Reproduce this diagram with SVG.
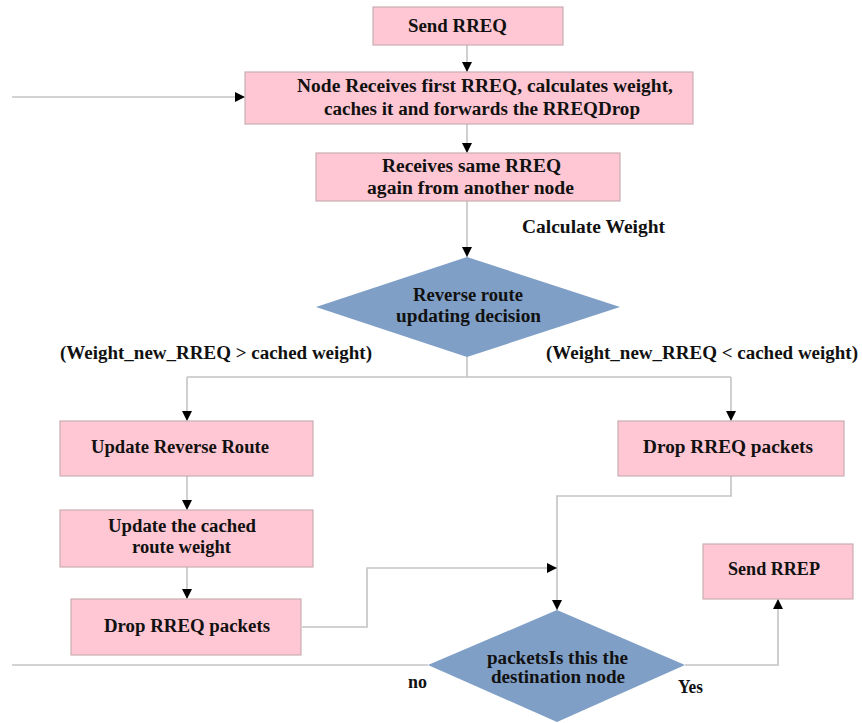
<svg xmlns="http://www.w3.org/2000/svg" width="862" height="723" viewBox="0 0 862 723">
<style>
.box{fill:#FFC7D3;stroke:#C9AEB3;stroke-width:1.2}
.dia{fill:#7F9FC6;stroke:none}
.t{font-family:"Liberation Serif","Times New Roman",serif;font-weight:bold;font-size:18px;fill:#111}
.c{fill:none;stroke:#C4C4C4;stroke-width:1.6}
</style>
<defs>
<marker id="ah" viewBox="0 0 10 10" refX="10" refY="5" markerWidth="10" markerHeight="10" markerUnits="userSpaceOnUse" orient="auto">
<path d="M0,0 L10,5 L0,10 z" fill="#000"/>
</marker>
</defs>
<rect width="862" height="723" fill="#fff"/>
<g id="connectors">
<path class="c" d="M467,45 V72" marker-end="url(#ah)"/>
<path class="c" d="M12,97 H245" marker-end="url(#ah)"/>
<path class="c" d="M467,124 V153" marker-end="url(#ah)"/>
<path class="c" d="M467,201 V257" marker-end="url(#ah)"/>
<path class="c" d="M467,357 V377 M187,377 H731"/>
<path class="c" d="M187,377 V421" marker-end="url(#ah)"/>
<path class="c" d="M731,377 V421" marker-end="url(#ah)"/>
<path class="c" d="M187,476 V510" marker-end="url(#ah)"/>
<path class="c" d="M187,567 V599" marker-end="url(#ah)"/>
<path class="c" d="M731,476 V496 H557 V610" marker-end="url(#ah)"/>
<path class="c" d="M302,627 H367 V568 H557" marker-end="url(#ah)"/>
<path class="c" d="M428,665 H12"/>
<path class="c" d="M685,665 H778 V599" marker-end="url(#ah)"/>
</g>
<g id="send-rreq">
<rect class="box" x="373" y="7" width="190" height="38"/>
<text class="t" x="408" y="32" textLength="99" lengthAdjust="spacingAndGlyphs">Send RREQ</text>
</g>
<g id="node-receives">
<rect class="box" x="245" y="72" width="448" height="52"/>
<text class="t" x="297" y="92" textLength="376" lengthAdjust="spacingAndGlyphs">Node Receives first RREQ, calculates weight,</text>
<text class="t" x="324" y="115" textLength="316" lengthAdjust="spacingAndGlyphs">caches it and forwards the RREQDrop</text>
</g>
<g id="receives-same">
<rect class="box" x="316" y="153" width="304" height="48"/>
<text class="t" x="382" y="172" textLength="179" lengthAdjust="spacingAndGlyphs">Receives same RREQ</text>
<text class="t" x="367" y="194" textLength="207" lengthAdjust="spacingAndGlyphs">again from another node</text>
</g>
<g id="label-calc">
<text class="t" x="522" y="233" textLength="143" lengthAdjust="spacingAndGlyphs">Calculate Weight</text>
</g>
<g id="decision-reverse">
<polygon class="dia" points="467,257 620,307 467,357 316,307"/>
<text class="t" x="413" y="301" textLength="110" lengthAdjust="spacingAndGlyphs">Reverse route</text>
<text class="t" x="396" y="322" textLength="145" lengthAdjust="spacingAndGlyphs">updating decision</text>
</g>
<g id="label-gt">
<text class="t" x="60" y="359" textLength="312" lengthAdjust="spacingAndGlyphs">(Weight_new_RREQ &gt; cached weight)</text>
</g>
<g id="label-lt">
<text class="t" x="546" y="359" textLength="312" lengthAdjust="spacingAndGlyphs">(Weight_new_RREQ &lt; cached weight)</text>
</g>
<g id="update-reverse">
<rect class="box" x="60" y="421" width="253" height="55"/>
<text class="t" x="91" y="453" textLength="178" lengthAdjust="spacingAndGlyphs">Update Reverse Route</text>
</g>
<g id="drop-right">
<rect class="box" x="618" y="421" width="226" height="55"/>
<text class="t" x="643" y="453" textLength="170" lengthAdjust="spacingAndGlyphs">Drop RREQ packets</text>
</g>
<g id="update-cached">
<rect class="box" x="60" y="510" width="253" height="57"/>
<text class="t" x="108" y="532" textLength="148" lengthAdjust="spacingAndGlyphs">Update the cached</text>
<text class="t" x="132" y="553" textLength="99" lengthAdjust="spacingAndGlyphs">route weight</text>
</g>
<g id="drop-left">
<rect class="box" x="71" y="599" width="230" height="56"/>
<text class="t" x="104" y="632" textLength="166" lengthAdjust="spacingAndGlyphs">Drop RREQ packets</text>
</g>
<g id="send-rrep">
<rect class="box" x="703" y="544" width="150" height="55"/>
<text class="t" x="728" y="575" textLength="92" lengthAdjust="spacingAndGlyphs">Send RREP</text>
</g>
<g id="decision-destination">
<polygon class="dia" points="557,610 685,665 557,722 428,665"/>
<text class="t" x="487" y="664" textLength="141" lengthAdjust="spacingAndGlyphs">packetsIs this the</text>
<text class="t" x="491" y="683" textLength="134" lengthAdjust="spacingAndGlyphs">destination node</text>
</g>
<g id="label-no">
<text class="t" x="408" y="688" textLength="19" lengthAdjust="spacingAndGlyphs">no</text>
</g>
<g id="label-yes">
<text class="t" x="678" y="693" textLength="25" lengthAdjust="spacingAndGlyphs">Yes</text>
</g>
</svg>
